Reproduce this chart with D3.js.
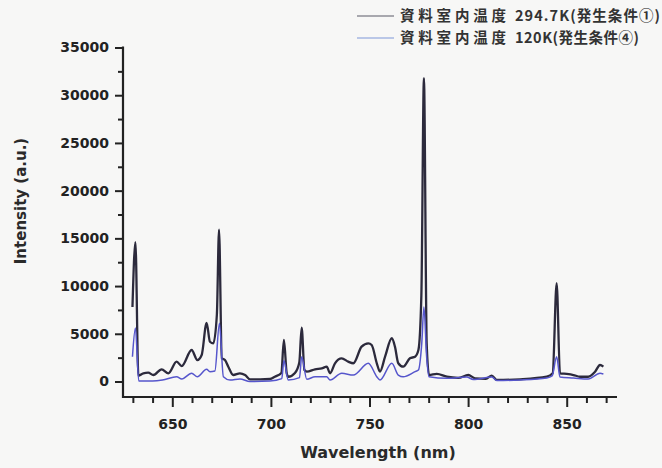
<!DOCTYPE html>
<html>
<head>
<meta charset="utf-8">
<script src="https://cdn.jsdelivr.net/npm/d3@7"></script>
<style>
  html, body { margin: 0; padding: 0; background: #f7f7f6; }
  svg { display: block; }
</style>
</head>
<body>
<svg id="chart" width="662" height="468"></svg>
<script>
// Emission spectra at two sample-chamber temperatures
const wavelengthWarm = [629.8, 631.3, 632.8, 635.3, 637.8, 640.4, 644.6, 648.0, 652.2, 654.8,
  659.8, 662.7, 664.9, 667.4, 669.1, 670.8, 672.6, 673.7, 675.1, 676.7,
  678.4, 680.9, 684.3, 686.9, 689.4, 694.5, 699.5, 702.0, 705.3, 706.6,
  708.0, 708.8, 712.2, 714.4, 715.6, 717.0, 718.2, 722.4, 725.8, 728.3,
  730.0, 732.5, 735.9, 739.2, 741.8, 746.0, 749.4, 751.1, 753.7, 755.3,
  757.9, 761.3, 762.9, 764.6, 767.1, 770.5, 773.1, 774.8, 776.3, 777.6,
  779.0, 780.2, 784.1, 789.2, 795.0, 800.1, 803.5, 809.0, 812.0, 814.5,
  826.3, 839.9, 842.9, 844.9, 846.6, 850.0, 853.4, 856.7, 860.9, 864.4,
  866.9, 868.6];
const intensityWarm = [7800, 14600, 600, 860, 920, 680, 1280, 860, 2080, 1620,
  3300, 2250, 2780, 6150, 4170, 4000, 7000, 15900, 2430, 2250,
  1550, 680, 860, 680, 230, 230, 260, 500, 900, 4350,
  900, 500, 900, 2000, 5650, 1200, 1030, 1280, 1380, 1550,
  860, 1910, 2430, 2080, 1910, 3650, 4000, 3820, 1910, 1030,
  2600, 4530, 3650, 1910, 1550, 2430, 2600, 3300, 9000, 31800,
  4000, 680, 790, 500, 380, 680, 330, 280, 620, 160,
  230, 500, 860, 10300, 860, 790, 680, 500, 500, 1030,
  1730, 1550];

const wavelengthCold = [629.8, 631.3, 633.0, 640.0, 645.0, 652.2, 654.8, 659.8, 662.7, 667.4,
  669.1, 671.6, 673.9, 675.9, 679.3, 684.3, 689.4, 699.5, 705.5, 706.6,
  708.8, 714.5, 715.6, 718.2, 722.4, 728.3, 730.0, 735.9, 741.8, 749.4,
  753.7, 755.3, 761.3, 764.6, 767.1, 773.1, 774.8, 776.5, 777.6, 779.0,
  780.2, 789.2, 799.3, 802.6, 812.1, 814.5, 826.3, 839.9, 842.6, 844.9,
  846.6, 853.4, 860.9, 866.9, 868.6];
const intensityCold = [2600, 5600, 50, 50, 150, 500, 260, 860, 500, 1280,
  1030, 1100, 6100, 500, 150, 260, 0, 50, 300, 2200,
  150, 400, 2600, 230, 500, 500, 150, 860, 680, 1910,
  500, 150, 1910, 680, 500, 1030, 1200, 4000, 7800, 2500,
  500, 340, 470, 210, 470, 100, 160, 370, 580, 2600,
  470, 370, 260, 860, 790];

const seriesNames = ["資料室内温度", "資料室内温度"];
const seriesConditions = ["294.7K(発生条件①)", "120K(発生条件④)"];
const xMajorTicks = [650, 700, 750, 800, 850];
const yMajorTicks = [0, 5000, 10000, 15000, 20000, 25000, 30000, 35000];

const colorWarm = "#2c2a3c";
const colorCold = "#5656cc";
const axisColor = "#222";
const tickFont = "'DejaVu Sans', sans-serif";

const svg = d3.select("#chart");

const x = d3.scaleLinear().domain([625, 875]).range([123, 616]);
const y = d3.scaleLinear().domain([0, 35000]).range([381.5, 47.5]);
const axisY = 397;

// Axis frame (left and bottom)
svg.append("line").attr("x1", x.range()[0]).attr("x2", x.range()[0])
  .attr("y1", y(35000) - 1).attr("y2", axisY + 1)
  .attr("stroke", axisColor).attr("stroke-width", 2.2);
svg.append("line").attr("x1", x.range()[0] - 1).attr("x2", x.range()[1] + 1)
  .attr("y1", axisY).attr("y2", axisY)
  .attr("stroke", axisColor).attr("stroke-width", 2.2);

// Y axis: majors with labels, minors in between
const yAxis = svg.append("g").attr("transform", `translate(${x.range()[0]},0)`)
  .call(d3.axisLeft(y).tickValues(yMajorTicks).tickSize(8).tickPadding(6).tickFormat(d3.format("d")));
const yMinor = svg.append("g").attr("transform", `translate(${x.range()[0]},0)`)
  .call(d3.axisLeft(y).tickValues(d3.range(2500, 35000, 5000)).tickSize(5).tickFormat(""));

// X axis: majors with labels, minors every 10 nm
const xAxis = svg.append("g").attr("transform", `translate(0,${axisY})`)
  .call(d3.axisBottom(x).tickValues(xMajorTicks).tickSize(10).tickPadding(12).tickFormat(d3.format("d")));
const xMinor = svg.append("g").attr("transform", `translate(0,${axisY})`)
  .call(d3.axisBottom(x).tickValues(d3.range(630, 871, 10).filter(v => v % 50 !== 0)).tickSize(6).tickFormat(""));

[yAxis, yMinor, xAxis, xMinor].forEach(g => {
  g.select(".domain").remove();
  g.selectAll(".tick line").attr("stroke", axisColor).attr("stroke-width", 2);
  g.selectAll(".tick text").attr("fill", "#222")
    .style("font-family", tickFont).style("font-weight", "bold").style("font-size", "14px");
});

// Axis titles
svg.append("text").attr("x", 378).attr("y", 458).attr("text-anchor", "middle")
  .style("font-family", tickFont).style("font-weight", "bold").style("font-size", "16px")
  .attr("fill", "#2a2a2a").text("Wavelength (nm)");
svg.append("text").attr("transform", "translate(26,201) rotate(-90)").attr("text-anchor", "middle")
  .style("font-family", tickFont).style("font-weight", "bold").style("font-size", "15px")
  .attr("fill", "#2a2a2a").text("Intensity (a.u.)");

// Spectra
const line = d3.line().x(d => x(d[0])).y(d => y(d[1])).curve(d3.curveMonotoneX);
const warm = wavelengthWarm.map((w, i) => [w, intensityWarm[i]]);
const cold = wavelengthCold.map((w, i) => [w, intensityCold[i]]);

svg.append("path").datum(warm).attr("d", line)
  .attr("fill", "none").attr("stroke", colorWarm).attr("stroke-width", 2.3)
  .attr("stroke-linejoin", "round");
svg.append("path").datum(cold).attr("d", line)
  .attr("fill", "none").attr("stroke", colorCold).attr("stroke-width", 1.5)
  .attr("stroke-linejoin", "round");

// Legend: wide-set label text, as in the original figure's font
const legendColors = ["#5a5a66", "#7f98d8"];
const conditionWidths = [145, 124];
const legendFont = "'Noto Sans CJK JP', sans-serif";
const legend = svg.append("g");
seriesNames.forEach((name, i) => {
  const ly = 16 + i * 22;
  legend.append("line").attr("x1", 357).attr("x2", 394).attr("y1", ly).attr("y2", ly)
    .attr("stroke", legendColors[i]).attr("stroke-width", 1.2);
  legend.append("text").attr("x", 400).attr("y", ly + 5)
    .style("font-family", legendFont).style("font-weight", "bold").style("font-size", "14.5px")
    .attr("fill", "#333").attr("textLength", 106).attr("lengthAdjust", "spacing")
    .text(name);
  legend.append("text").attr("x", 515).attr("y", ly + 5)
    .style("font-family", legendFont).style("font-weight", "bold").style("font-size", "14.5px")
    .attr("fill", "#333").attr("textLength", conditionWidths[i]).attr("lengthAdjust", "spacing")
    .text(seriesConditions[i]);
});
</script>
</body>
</html>
